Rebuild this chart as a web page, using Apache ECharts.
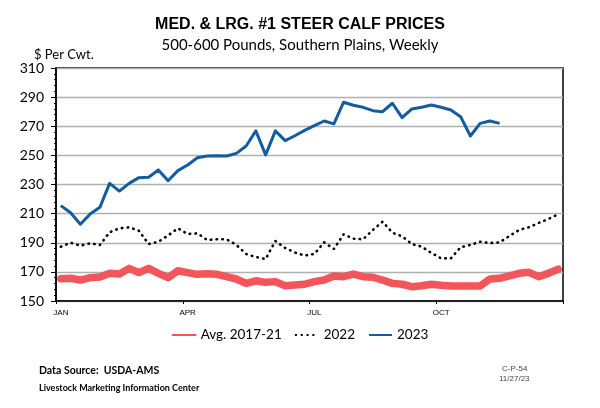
<!DOCTYPE html>
<html>
<head>
<meta charset="utf-8">
<script src="https://cdn.jsdelivr.net/npm/echarts@6/dist/echarts.min.js"></script>
<style>
  html, body { margin: 0; padding: 0; background: #fff; }
  #chart { width: 600px; height: 408px; }
</style>
</head>
<body>
<div id="chart"></div>
<script>
// weekly steer calf prices, $/cwt
const monthNames = ['JAN', 'APR', 'JUL', 'OCT'];
const monthWeeks = [0, 13, 26, 39];
const weekCount = 52;

const avg1721 = [165.3, 165.6, 164.4, 166, 166.5, 169, 168.5, 172.4, 169.5, 172.4, 169, 166, 170.8,
  169.5, 168.3, 168.7, 168.3, 166.7, 165.1, 162.1, 163.9, 162.8, 163.3, 160.5, 161, 161.5,
  163.3, 164.4, 167.2, 166.7, 168.5, 166.7, 166.3, 164.4, 162.1, 161.5, 159.8, 160.5, 161.5,
  160.8, 160.3, 160.3, 160.3, 160.3, 165.1, 165.6, 167.2, 169, 169.7, 166.7, 169, 171.8];

const y2022 = [187.3, 190, 188, 189.6, 188.5, 197.2, 199.9, 200.6, 198.3, 189.1, 190.7, 195, 199.9,
  196, 196.5, 191.9, 192.4, 192.4, 188.5, 182.3, 180.2, 178.8, 191.2, 186.4, 183.3, 181.2,
  182.3, 190.3, 185.7, 195.8, 192.8, 192.4, 198.8, 204.5, 196.9, 194.4, 189.1, 187.3, 183,
  179.3, 179.3, 186.9, 188.5, 190.7, 189.8, 190.3, 194.6, 198.8, 200.6, 203.6, 206.3, 209.5];

const y2023 = [215.5, 210.6, 202.7, 209.8, 214.3, 230.8, 225.5, 230.8, 234.7, 235, 240, 232.6, 239.5,
  243.4, 248.4, 249.6, 249.8, 249.6, 251.4, 256.4, 266.8, 250.3, 266.8, 260.1, 263.5, 267.2,
  270.4, 273.6, 271.6, 286.5, 284.4, 283, 280.7, 280, 285.8, 275.9, 281.9, 283, 284.6,
  283, 281.2, 276.6, 263.3, 272, 273.6, 272];

const weeks = [];
for (let i = 0; i < weekCount; i++) {
  const m = monthWeeks.indexOf(i);
  weeks.push(m >= 0 ? monthNames[m] : 'w' + (i + 1));
}

const chart = echarts.init(document.getElementById('chart'));

const option = {
  animation: false,
  title: [
    {
      text: 'MED. & LRG. #1 STEER CALF PRICES',
      left: 'center', top: 12,
      textStyle: { fontFamily: 'Liberation Sans', fontWeight: 'bold', fontSize: 16, color: '#000' }
    },
    {
      text: '500-600 Pounds, Southern Plains, Weekly',
      left: 'center', top: 33,
      textStyle: { fontFamily: 'Lato', fontWeight: 'normal', fontSize: 15, color: '#000' }
    },
    {
      text: '$ Per Cwt.',
      left: 29, top: 43,
      textStyle: { fontFamily: 'Lato', fontWeight: 'normal', fontSize: 13, color: '#000' }
    },
    {
      text: 'Data Source:  USDA-AMS',
      left: 34, top: 360,
      textStyle: { fontFamily: 'Lato', fontWeight: 'bold', fontSize: 10.5, color: '#000' }
    },
    {
      text: 'Livestock Marketing Information Center',
      left: 34, top: 379,
      textStyle: { fontFamily: 'Lato', fontWeight: 'bold', fontSize: 9, color: '#000' }
    },
    {
      text: 'C-P-54',
      left: 497, top: 360,
      textStyle: { fontFamily: 'Liberation Sans', fontWeight: 'normal', fontSize: 8, color: '#444' }
    },
    {
      text: '11/27/23',
      left: 494, top: 370,
      textStyle: { fontFamily: 'Liberation Sans', fontWeight: 'normal', fontSize: 8, color: '#444' }
    }
  ],
  legend: {
    left: 'center', top: 323,
    itemWidth: 23, itemHeight: 10, itemGap: 13,
    itemStyle: { opacity: 0 },
    textStyle: { fontFamily: 'Lato', fontSize: 13.5, color: '#000' },
    data: ['Avg. 2017-21', '2022', '2023']
  },
  grid: {
    left: 56, right: 37, top: 68, bottom: 107,
    show: true, borderColor: '#000', borderWidth: 1.5
  },
  xAxis: {
    type: 'category',
    data: weeks,
    boundaryGap: true,
    axisLine: { lineStyle: { color: '#000', width: 1.5 } },
    axisTick: { show: true, length: 3, lineStyle: { color: '#000' } },
    axisLabel: {
      interval: 12, margin: 8,
      fontFamily: 'Liberation Sans', fontSize: 8, color: '#000'
    },
    splitLine: { show: false }
  },
  yAxis: {
    type: 'value',
    min: 150, max: 310, interval: 20,
    axisLine: { show: true, lineStyle: { color: '#000', width: 1.5 } },
    axisTick: { show: true, length: 5, lineStyle: { color: '#000' } },
    minorTick: { show: true, splitNumber: 5, length: 2, lineStyle: { color: '#000' } },
    axisLabel: { margin: 12, fontFamily: 'Lato', fontSize: 14, color: '#000' },
    splitLine: { show: true, lineStyle: { color: '#b0b0b0', width: 1.3 } }
  },
  series: [
    {
      name: 'Avg. 2017-21', type: 'line', data: avg1721,
      symbol: 'none',
      lineStyle: { color: '#f2555a', width: 7.5, cap: 'round', join: 'round' },
      itemStyle: { color: '#f2555a' }
    },
    {
      name: '2022', type: 'line', data: y2022,
      symbol: 'none',
      lineStyle: { color: '#000', width: 2.6, type: [0.5, 5.3], cap: 'round' },
      itemStyle: { color: '#000' }
    },
    {
      name: '2023', type: 'line', data: y2023,
      symbol: 'none',
      lineStyle: { color: '#135c9f', width: 3, join: 'round' },
      itemStyle: { color: '#135c9f' }
    }
  ]
};

chart.setOption(option);
</script>
</body>
</html>
